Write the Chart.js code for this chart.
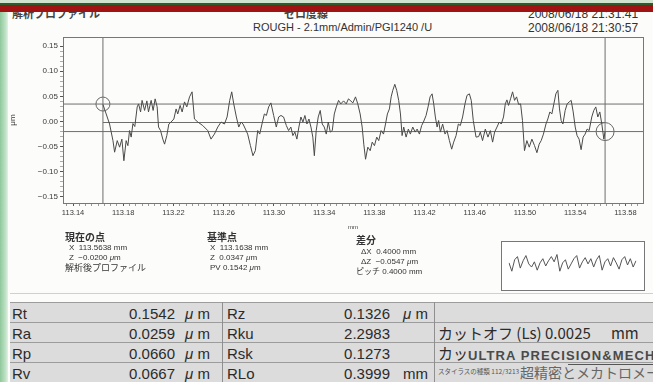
<!DOCTYPE html>
<html>
<head>
<meta charset="utf-8">
<script src="https://cdn.jsdelivr.net/npm/chart.js@4.4.1/dist/chart.umd.min.js"></script>
<style>
  body { margin: 0; width: 653px; height: 382px; overflow: hidden; position: relative; background: #fcfcfb;
         font-family: "Liberation Sans", Arial, "Noto Sans CJK JP", sans-serif; color: #333; }
  .abs { position: absolute; white-space: nowrap; line-height: 1; }
  .jp { font-family: "Noto Sans CJK JP", sans-serif; }
  #leftStrip { position: absolute; left: 0; top: 0; width: 8px; height: 382px;
               background: linear-gradient(to right, #8fc79c, #bfe3c6 70%, #e4f1e6); z-index: 5; }
  #topGreen { position: absolute; left: 0; top: 0; width: 653px; height: 4px; background: #cfe3cf; z-index: 6; }
  #topLine { position: absolute; left: 0; top: 3px; width: 653px; height: 2px; background: #2f5a2c; z-index: 6; }
  #topRed { position: absolute; left: 0; top: 5px; width: 653px; height: 7px; background: #a11313; z-index: 6; }
  #chartBox { position: absolute; left: 0; top: 0; width: 653px; height: 232px; }
  #insetBox { position: absolute; left: 501px; top: 241px; width: 142px; height: 48px; border: 1px solid #777; background: #fff; }
  #table { position: absolute; left: 10px; top: 302px; width: 643px; height: 80px; background: #dcdcdc; font-size: 15px; color: #2b2b2b; overflow: hidden; }
  .row { position: absolute; left: 0; width: 643px; height: 20px; border-top: 1px solid #9c9c9c; box-sizing: border-box; }
  .cell { position: absolute; top: 3px; white-space: nowrap; line-height: 1; }
  .vdiv { position: absolute; top: 0; width: 1px; height: 80px; background: #8f8f8f; }
</style>
</head>
<body>
<div id="leftStrip"></div>
<div id="topGreen"></div>
<div id="topLine"></div>
<div id="topRed"></div>

<!-- header -->
<div class="abs jp" style="left:12px;top:8px;font-size:11px;font-weight:bold;color:#444;">解析プロファイル</div>
<div class="abs jp" style="left:284px;top:8px;font-size:11px;font-weight:bold;color:#444;">ゼロ度線</div>
<div class="abs" style="left:528px;top:8px;font-size:12px;">2008/06/18 21:31:41</div>
<div class="abs" style="left:253px;top:22px;font-size:11px;">ROUGH - 2.1mm/Admin/PGI1240 /U</div>
<div class="abs" style="left:528px;top:22px;font-size:12px;">2008/06/18 21:30:57</div>

<div id="chartBox"><canvas id="profileChart" width="653" height="232"></canvas></div>

<!-- cursor readout -->
<div class="abs jp" style="left:65px;top:232px;font-size:10px;font-weight:bold;">現在の点</div>
<div class="abs" style="left:69px;top:244px;font-size:8px;">X&nbsp; 113.5638 mm</div>
<div class="abs" style="left:69px;top:254px;font-size:8px;">Z&nbsp; −0.0200 <i>μ</i>m</div>
<div class="abs jp" style="left:65px;top:263px;font-size:9px;">解析後プロファイル</div>

<div class="abs jp" style="left:207px;top:232px;font-size:10px;font-weight:bold;">基準点</div>
<div class="abs" style="left:210px;top:244px;font-size:8px;">X&nbsp; 113.1638 mm</div>
<div class="abs" style="left:210px;top:254px;font-size:8px;">Z&nbsp; 0.0347 <i>μ</i>m</div>
<div class="abs" style="left:210px;top:264px;font-size:8px;">PV 0.1542 <i>μ</i>m</div>

<div class="abs jp" style="left:356px;top:235px;font-size:10px;font-weight:bold;">差分</div>
<div class="abs" style="left:361px;top:248px;font-size:8px;">ΔX&nbsp; 0.4000 mm</div>
<div class="abs" style="left:361px;top:258px;font-size:8px;">ΔZ&nbsp; −0.0547 <i>μ</i>m</div>
<div class="abs" style="left:356px;top:267px;font-size:8px;"><span class="jp">ピッチ</span> 0.4000 mm</div>

<div id="insetBox"><canvas id="insetChart" width="142" height="48"></canvas></div>

<div class="abs" style="left:10px;top:293px;width:643px;height:1px;background:#d0d0d0;"></div>

<div id="table"></div>

<script>
// Profile trace (x in mm, z in µm)
const profileX = [
  113.1638, 113.1664, 113.1691, 113.1718, 113.1731, 113.1752, 113.1771, 113.1789, 113.1805, 113.1823,
  113.1837, 113.1850, 113.1863, 113.1877, 113.1892, 113.1911, 113.1922, 113.1938, 113.1950, 113.1970,
  113.1988, 113.2001, 113.2022, 113.2038, 113.2054, 113.2070, 113.2081, 113.2097, 113.2115, 113.2129,
  113.2147, 113.2163, 113.2181, 113.2203, 113.2221, 113.2234, 113.2253, 113.2269, 113.2288, 113.2306,
  113.2328, 113.2348, 113.2367, 113.2394, 113.2433, 113.2473, 113.2499, 113.2526, 113.2553, 113.2579,
  113.2606, 113.2627, 113.2648, 113.2664, 113.2680, 113.2701, 113.2720, 113.2738, 113.2754, 113.2773,
  113.2791, 113.2813, 113.2833, 113.2852, 113.2871, 113.2887, 113.2905, 113.2924, 113.2940, 113.2958,
  113.2976, 113.2998, 113.3019, 113.3038, 113.3056, 113.3077, 113.3099, 113.3117, 113.3135, 113.3151,
  113.3167, 113.3183, 113.3199, 113.3215, 113.3231, 113.3247, 113.3263, 113.3279, 113.3295, 113.3310,
  113.3322, 113.3337, 113.3353, 113.3369, 113.3385, 113.3401, 113.3417, 113.3433, 113.3449, 113.3465,
  113.3481, 113.3497, 113.3515, 113.3533, 113.3555, 113.3576, 113.3594, 113.3629, 113.3650, 113.3668,
  113.3687, 113.3703, 113.3716, 113.3730, 113.3748, 113.3767, 113.3783, 113.3801, 113.3819, 113.3835,
  113.3854, 113.3873, 113.3889, 113.3904, 113.3920, 113.3934, 113.3947, 113.3963, 113.3978, 113.3994,
  113.4008, 113.4021, 113.4034, 113.4053, 113.4071, 113.4087, 113.4106, 113.4125, 113.4141, 113.4159,
  113.4177, 113.4191, 113.4212, 113.4228, 113.4244, 113.4260, 113.4273, 113.4286, 113.4300, 113.4312,
  113.4326, 113.4344, 113.4363, 113.4379, 113.4398, 113.4416, 113.4432, 113.4451, 113.4469, 113.4485,
  113.4503, 113.4522, 113.4538, 113.4557, 113.4572, 113.4588, 113.4610, 113.4631, 113.4644, 113.4662,
  113.4684, 113.4705, 113.4724, 113.4742, 113.4758, 113.4777, 113.4795, 113.4811, 113.4829, 113.4843,
  113.4856, 113.4869, 113.4885, 113.4901, 113.4917, 113.4933, 113.4949, 113.4965, 113.4980, 113.4996,
  113.5015, 113.5034, 113.5055, 113.5076, 113.5095, 113.5113, 113.5129, 113.5147, 113.5167, 113.5182,
  113.5198, 113.5214, 113.5230, 113.5246, 113.5262, 113.5275, 113.5288, 113.5302, 113.5320, 113.5336,
  113.5352, 113.5368, 113.5384, 113.5400, 113.5415, 113.5431, 113.5447, 113.5463, 113.5479, 113.5495,
  113.5511, 113.5532, 113.5548, 113.5564, 113.5580, 113.5596, 113.5612, 113.5628, 113.5638
];
const profileZ = [
  0.034, 0.015, -0.005, -0.038, -0.061, -0.038, -0.051, -0.035, -0.078, -0.038,
  -0.048, -0.018, -0.031, -0.004, -0.010, 0.029, 0.035, 0.019, 0.042, 0.022,
  0.041, 0.019, 0.042, 0.022, 0.045, 0.029, -0.011, -0.018, -0.035, -0.045,
  -0.028, -0.005, -0.001, 0.005, 0.025, 0.015, 0.032, 0.019, 0.039, 0.029,
  0.049, 0.059, 0.005, -0.001, -0.008, -0.018, -0.035, -0.025, -0.011, -0.001,
  -0.005, 0.009, 0.042, 0.059, 0.035, 0.009, -0.011, -0.001, -0.005, -0.015,
  -0.025, -0.048, -0.068, -0.058, -0.018, -0.025, -0.005, 0.015, 0.012, 0.029,
  0.037, 0.012, -0.011, 0.009, 0.012, 0.009, -0.008, -0.018, -0.011, -0.028,
  -0.021, -0.035, -0.011, 0.009, -0.001, 0.012, -0.005, 0.005, -0.011, -0.031,
  -0.068, -0.018, 0.009, 0.022, -0.005, -0.011, -0.025, -0.001, -0.021, -0.018,
  0.015, 0.029, 0.042, 0.035, 0.041, 0.035, 0.045, 0.037, 0.049, 0.035,
  0.015, -0.011, -0.045, -0.075, -0.051, -0.058, -0.041, -0.048, -0.031, -0.038,
  -0.018, -0.025, -0.005, 0.015, 0.025, 0.049, 0.062, 0.074, 0.062, 0.042,
  0.015, -0.028, -0.011, -0.031, -0.015, -0.025, -0.011, -0.021, -0.015, -0.025,
  -0.008, -0.001, 0.012, 0.029, 0.049, 0.055, 0.035, 0.009, -0.011, 0.002,
  -0.021, -0.005, -0.025, -0.018, -0.038, -0.055, -0.041, -0.028, -0.005, -0.008,
  0.009, 0.035, 0.052, 0.055, 0.042, 0.002, -0.031, -0.030, -0.021, -0.038,
  -0.015, -0.031, -0.018, -0.041, -0.021, -0.011, -0.001, -0.005, 0.009, 0.035,
  0.043, 0.032, 0.045, 0.059, 0.042, 0.049, 0.034, 0.035, 0.002, -0.058,
  -0.038, -0.051, -0.035, -0.048, -0.062, -0.045, -0.038, -0.025, -0.005, 0.005,
  0.019, 0.015, 0.035, 0.055, 0.062, 0.025, 0.002, -0.005, 0.022, 0.035,
  0.039, 0.042, 0.019, -0.011, -0.028, -0.035, -0.056, -0.031, -0.025, -0.015,
  -0.018, 0.009, 0.022, 0.029, 0.009, 0.019, -0.005, -0.035, -0.020
];

// cursors: reference point and current point
const cursorX = [113.1638, 113.5638];
const cursorZ = [0.0347, -0.0200];
const cursorRadius = [7, 9];
const meanZ = -0.002;

const xMin = 113.132, xMax = 113.594;
const zMin = -0.162, zMax = 0.168;
const xTickLabels = ["113.14", "113.18", "113.22", "113.26", "113.30", "113.34",
                     "113.38", "113.42", "113.46", "113.50", "113.54", "113.58"];
const zTickLabels = ["0.15", "0.10", "0.05", "0.00", "-0.05", "-0.10", "-0.15"];

// overview trace in the small box (relative units)
const insetWave = [0.2, -0.6, 0.5, 0.8, -0.3, 0.4, 0.9, 0.1, -0.2, 0.3, -0.5, 0.2, 0.6, -0.1, 0.4, 0.8,
                   0.3, 1.0, -0.6, 0.2, 0.5, -0.4, 0.1, 0.6, 0.9, -0.3, 0.3, 0.7, 0.1, 0.6, -0.2, 0.5,
                   0.9, -0.5, 0.3, 0.6, -0.1, 0.7, 0.2, -0.4, 0.5, 0.8, 0.0, 0.6, -0.2, 0.4];

// result table
const paramNames1 = ["Rt", "Ra", "Rp", "Rv"];
const paramValues1 = ["0.1542", "0.0259", "0.0660", "0.0667"];
const paramUnits1 = ["<i>μ</i> m", "<i>μ</i> m", "<i>μ</i> m", "<i>μ</i> m"];
const paramNames2 = ["Rz", "Rku", "Rsk", "RLo"];
const paramValues2 = ["0.1326", "2.2983", "0.1273", "0.3999"];
const paramUnits2 = ["<i>μ</i> m", "", "", "mm"];
const condText = ["", "カットオフ (Ls) 0.0025&nbsp;&nbsp;&nbsp;&nbsp;&nbsp; mm", "カッ", ""];

const labelColor = "#3a3a3a";
const axisColor = "#777";

const framePlugin = {
  id: "frame",
  afterDatasetsDraw(chart) {
    const { ctx, chartArea: a } = chart;
    ctx.save();
    ctx.strokeStyle = axisColor;
    ctx.lineWidth = 1;
    ctx.strokeRect(Math.round(a.left) + 0.5, Math.round(a.top) + 0.5,
                   Math.round(a.right - a.left), Math.round(a.bottom - a.top));
    ctx.restore();
  }
};

function findLabel(list, v) {
  const l = list.find((t) => Math.abs(parseFloat(t) - v) < 1e-6);
  return l === undefined ? "" : l.replace("-", "−");
}

const lineStyle = { borderColor: "#6e6e6e", borderWidth: 1, pointRadius: 0, fill: false };

new Chart(document.getElementById("profileChart"), {
  type: "line",
  data: {
    datasets: [
      {
        data: profileX.map((x, i) => ({ x: x, y: profileZ[i] })),
        borderColor: "#4a4a4a",
        borderWidth: 1,
        pointRadius: 0,
        tension: 0,
      },
      { ...lineStyle, data: [{ x: xMin, y: cursorZ[0] }, { x: xMax, y: cursorZ[0] }] },
      { ...lineStyle, data: [{ x: xMin, y: cursorZ[1] }, { x: xMax, y: cursorZ[1] }] },
      { ...lineStyle, data: [{ x: cursorX[0], y: meanZ }, { x: cursorX[1], y: meanZ }] },
      { ...lineStyle, data: [{ x: cursorX[0], y: zMin }, { x: cursorX[0], y: zMax }] },
      { ...lineStyle, data: [{ x: cursorX[1], y: zMin }, { x: cursorX[1], y: zMax }] },
      {
        data: cursorX.map((x, i) => ({ x: x, y: cursorZ[i] })),
        showLine: false,
        pointRadius: cursorRadius,
        pointBorderColor: "#666",
        pointBorderWidth: 1,
        pointBackgroundColor: "rgba(0,0,0,0)",
      },
    ],
  },
  options: {
    responsive: false,
    animation: false,
    layout: { padding: { top: 37, right: 9, left: 8, bottom: 0 } },
    plugins: { legend: { display: false }, tooltip: { enabled: false } },
    scales: {
      x: {
        type: "linear",
        min: xMin,
        max: xMax,
        afterFit: (s) => { s.height = 29; },
        afterBuildTicks: (s) => {
          const t = [];
          for (let i = 0; i <= 91; i++) {
            const v = Math.round((113.135 + i * 0.005) * 1000) / 1000;
            if (v <= xMax) t.push({ value: v });
          }
          s.ticks = t;
        },
        ticks: {
          autoSkip: false,
          maxRotation: 0,
          padding: 2,
          color: labelColor,
          font: { family: "Liberation Sans", size: 7.5 },
          callback: (v) => findLabel(xTickLabels, v),
        },
        grid: {
          drawOnChartArea: false,
          tickLength: 3,
          tickColor: (c) => (c.tick && findLabel(xTickLabels, c.tick.value) ? "#555" : "#999"),
        },
        border: { color: axisColor },
        title: {
          display: true,
          text: "mm",
          color: labelColor,
          font: { family: "Liberation Sans", size: 6 },
          padding: { top: 0, bottom: 1 },
        },
      },
      y: {
        min: zMin,
        max: zMax,
        afterFit: (s) => { s.width = 55; },
        afterBuildTicks: (s) => {
          const t = [];
          for (let i = -15; i <= 15; i++) t.push({ value: i / 100 });
          s.ticks = t;
        },
        ticks: {
          autoSkip: false,
          padding: 2,
          color: labelColor,
          font: { family: "Liberation Sans", size: 8 },
          callback: (v) => findLabel(zTickLabels, v),
        },
        grid: {
          drawOnChartArea: false,
          tickLength: 3,
          tickColor: (c) => (c.tick && findLabel(zTickLabels, c.tick.value) ? "#555" : "#aaa"),
        },
        border: { color: axisColor },
        title: {
          display: true,
          text: "μm",
          color: labelColor,
          font: { family: "Liberation Sans", size: 8 },
          padding: { top: 0, bottom: 2 },
        },
      },
    },
  },
  plugins: [framePlugin],
});

// small overview box
new Chart(document.getElementById("insetChart"), {
  type: "line",
  data: {
    labels: insetWave.map((_, i) => i),
    datasets: [{ data: insetWave, borderColor: "#555", borderWidth: 1, pointRadius: 0, tension: 0 }],
  },
  options: {
    responsive: false,
    animation: false,
    layout: { padding: { left: 7, right: 8, top: 0, bottom: 0 } },
    plugins: { legend: { display: false }, tooltip: { enabled: false } },
    scales: {
      x: { display: false },
      y: { display: false, min: -2.4, max: 2.2 },
    },
  },
});

// result table
const table = document.getElementById("table");
for (let r = 0; r < paramNames1.length; r++) {
  const row = document.createElement("div");
  row.className = "row";
  row.style.top = r * 20 + "px";
  row.innerHTML =
    `<span class="cell" style="left:2px">${paramNames1[r]}</span>` +
    `<span class="cell" style="left:90px;width:75px;text-align:right">${paramValues1[r]}</span>` +
    `<span class="cell" style="left:175px">${paramUnits1[r]}</span>` +
    `<span class="cell" style="left:217px">${paramNames2[r]}</span>` +
    `<span class="cell" style="left:305px;width:75px;text-align:right">${paramValues2[r]}</span>` +
    `<span class="cell" style="left:393px">${paramUnits2[r]}</span>` +
    `<span class="cell jp" style="left:428px;top:2px">${condText[r]}</span>`;
  table.appendChild(row);
}
["212px", "424px"].forEach((x) => {
  const d = document.createElement("div");
  d.className = "vdiv";
  d.style.left = x;
  table.appendChild(d);
});
// watermark + stylus line in the last column
table.insertAdjacentHTML("beforeend",
  `<span class="cell" style="left:458px;top:47px;font-size:13px;font-weight:bold;color:#4a4a4a;letter-spacing:1.1px">ULTRA PRECISION&amp;MECHA</span>` +
  `<div style="position:absolute;left:558px;top:62px;width:85px;height:1px;background:#555"></div>` +
  `<span class="cell jp" style="left:428px;top:66px;font-size:6.5px;color:#555">スタイラスの種類 112/3213</span>` +
  `<span class="cell jp" style="left:510px;top:63px;font-size:14px;color:#666">超精密とメカトロメー</span>`);
</script>
</body>
</html>
